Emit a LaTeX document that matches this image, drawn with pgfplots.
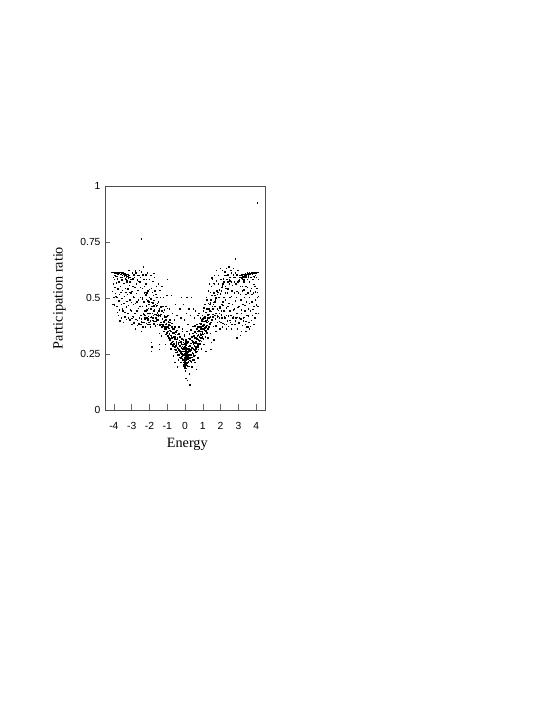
\documentclass[border=0pt]{standalone}
\usepackage{fontspec}
\setmainfont{Liberation Serif}
\setsansfont{Liberation Sans}
\usepackage{pgfplots}
\pgfplotsset{compat=1.18}
\begin{document}
\begin{tikzpicture}[x=1pt,y=1pt]
\path[use as bounding box,fill=white] (0,0) rectangle (545,705);
\begin{axis}[at={(105pt,295pt)},anchor=south west,scale only axis,width=160.6pt,height=224pt,
 xmin=-4.5,xmax=4.53,ymin=0,ymax=1,
 axis line style={line width=0.5pt,black!70},
 tick style={line width=0.5pt,black!60},
 major tick length=5.5pt,tick align=inside,xtick pos=bottom,ytick pos=left,
 xtick={-4,-3,-2,-1,0,1,2,3,4},xticklabels={-4,-3,-2,-1,0,1,2,3,4},
 ytick={0,0.25,0.5,0.75,1},yticklabels={0,0.25,0.5,0.75,1},
 tick label style={font=\sffamily\fontsize{10.3}{12}\selectfont},
 xticklabel style={yshift=-8.5pt},yticklabel style={xshift=-1pt},
 xlabel={Energy},ylabel={Participation ratio},
 label style={font=\fontsize{14.2}{16}\selectfont},
 xlabel style={yshift=-2pt,xshift=2pt},ylabel style={yshift=8pt},
 clip=true]
\addplot[only marks,mark=square*,mark size=0.22pt,black] coordinates {
(-4.12,.615)(-4.07,.614)(-4.03,.616)(-3.98,.612)(-3.94,.615)(-3.9,.611)(-3.86,.616)(-3.82,.613)(-3.78,.609)(-3.74,.615)(-3.7,.611)(-3.66,.606)(-3.62,.614)(-3.58,.609)(-3.54,.603)(-3.5,.612)(-3.46,.607)(-3.42,.6)(-3.38,.61)(-3.34,.604)(-3.3,.595)(-3.26,.606)(-3.22,.598)(-3.18,.59)(-3.14,.603)(-3.1,.594)(-3.06,.585)
(4.12,.616)(4.07,.614)(4.03,.616)(3.98,.612)(3.94,.615)(3.9,.611)(3.86,.616)(3.82,.613)(3.78,.609)(3.74,.615)(3.7,.611)(3.66,.606)(3.62,.614)(3.58,.609)(3.54,.603)(3.5,.612)(3.46,.607)(3.42,.6)(3.38,.61)(3.34,.604)(3.3,.595)(3.26,.606)(3.22,.598)(3.18,.59)(3.14,.603)(3.1,.594)(3.06,.585)
(4.06,.925)(-2.47,.765)(2.82,.675)(-1.0,.585)(-1.75,.61)(1.5,.59)
(-4.05,.593)(-4.03,.563)(-4.08,.531)(-4.02,.504)(-4.06,.472)(-3.98,.584)(-3.95,.547)(-3.93,.522)(-3.9,.597)(-3.87,.568)(-3.85,.503)(-3.83,.463)(-3.8,.587)(-3.78,.541)(-3.75,.424)(-3.72,.573)(-3.7,.518)(-3.68,.398)(-3.65,.592)(-3.63,.553)(-3.6,.473)(-3.58,.412)(-3.55,.582)(-3.52,.534)(-3.5,.443)(-3.48,.392)(-3.45,.566)(-3.42,.507)(-3.4,.417)(-3.37,.587)(-3.35,.544)(-3.32,.462)(-3.3,.405)(-3.27,.573)(-3.25,.516)(-3.22,.433)(-3.2,.412)(-3.17,.625)(-3.15,.557)(-3.12,.492)(-3.1,.403)(-3.07,.576)(-3.05,.523)(-3.02,.444)(-3,.383)(-2.97,.612)(-2.95,.552)(-2.92,.473)(-2.9,.414)(-2.87,.594)(-2.85,.503)(-2.82,.432)(-2.8,.362)(-2.77,.613)(-2.75,.564)(-2.72,.483)(-2.7,.402)(-2.67,.603)(-2.65,.534)(-2.62,.455)(-2.6,.386)(-2.57,.625)(-2.55,.572)(-2.52,.503)(-2.5,.424)(-2.47,.352)(-2.45,.617)(-2.42,.544)(-2.4,.463)(-2.37,.393)(-2.35,.64)(-2.32,.583)(-2.3,.524)(-2.27,.443)(-2.25,.372)(-2.22,.604)(-2.2,.563)(-2.18,.494)(-2.15,.413)(-2.12,.612)(-2.1,.533)(-2.07,.454)(-2.05,.392)(-2.02,.583)(-2,.504)(-1.98,.433)(-1.95,.372)(-1.92,.603)(-1.9,.544)(-1.87,.463)(-1.85,.402)(-1.82,.574)(-1.8,.513)(-1.77,.444)(-1.75,.385)(-1.72,.592)(-1.7,.533)(-1.67,.473)(-1.65,.412)(-1.62,.553)(-1.6,.503)(-1.57,.434)(-1.55,.382)(-1.52,.564)(-1.5,.483)(-1.47,.423)(-1.45,.343)(-1.42,.534)(-1.4,.463)(-1.37,.392)(-1.35,.332)(-1.32,.553)(-1.3,.443)(-1.27,.372)(-1.22,.503)(-1.18,.424)(-1.15,.362)(-1.12,.293)(-1.08,.463)(-1.02,.513)(-.98,.424)(-.95,.333)(-.9,.453)(-.85,.392)(-.8,.273)(-.78,.513)(-.72,.433)(-.68,.243)(-.62,.403)(-.58,.213)(-.55,.473)(-.48,.423)(-.44,.193)(-.4,.224)(-.35,.372)(-.3,.453)(-.25,.412)(-.2,.503)(-.15,.363)(-.1,.473)(-.05,.403)(0.03,.143)(.05,.433)(.12,.132)(.1,.503)(.15,.383)(.2,.453)(.22,.163)(.25,.113)(.3,.423)(.35,.503)(.38,.193)(.42,.373)(.45,.453)(.5,.413)(.55,.213)(.58,.443)(.62,.183)(.65,.383)(.7,.423)(.72,.233)(.78,.433)(.85,.413)(.9,.273)(.95,.423)(1.02,.443)(1.05,.293)(1.1,.473)(1.15,.263)(1.18,.503)(1.22,.453)(1.28,.323)(1.3,.533)(1.35,.563)(1.38,.443)(1.42,.343)(1.45,.493)(1.48,.553)(1.52,.583)(1.55,.453)(1.58,.373)(1.6,.523)(1.63,.603)(1.65,.563)(1.68,.423)(1.7,.493)(1.72,.353)(1.75,.623)(1.78,.533)(1.8,.453)(1.82,.393)(1.85,.603)(1.88,.563)(1.9,.503)(1.92,.433)(1.95,.363)(1.98,.633)(2,.583)(2.02,.533)(2.05,.473)(2.07,.413)(2.1,.623)(2.12,.563)(2.15,.503)(2.17,.443)(2.2,.383)(2.22,.603)(2.25,.553)(2.27,.493)(2.3,.423)(2.32,.633)(2.35,.583)(2.37,.523)(2.4,.463)(2.42,.373)(2.45,.64)(2.47,.563)(2.5,.503)(2.52,.443)(2.55,.393)(2.57,.623)(2.6,.573)(2.62,.533)(2.65,.473)(2.67,.413)(2.7,.633)(2.72,.593)(2.75,.523)(2.77,.453)(2.8,.383)(2.82,.613)(2.85,.563)(2.87,.503)(2.9,.433)(2.92,.363)(2.95,.623)(2.97,.573)(3,.523)(3.02,.463)(3.05,.413)(3.08,.603)(3.1,.553)(3.12,.493)(3.15,.433)(3.17,.353)(3.2,.583)(3.22,.533)(3.25,.473)(3.27,.413)(3.3,.573)(3.32,.503)(3.35,.443)(3.37,.383)(3.4,.593)(3.42,.553)(3.45,.483)(3.47,.423)(3.5,.583)(3.52,.523)(3.55,.453)(3.57,.393)(3.6,.573)(3.62,.503)(3.65,.443)(3.67,.373)(3.7,.593)(3.72,.543)(3.75,.483)(3.77,.423)(3.8,.583)(3.82,.523)(3.85,.463)(3.87,.383)(3.9,.593)(3.92,.553)(3.95,.493)(3.97,.433)(4,.593)(4.02,.543)(4.05,.503)(4.08,.463)(4.1,.433)(4.12,.583)
(-3.97,.471)(-3.89,.509)(-3.81,.436)(-3.73,.488)(-3.69,.447)(-3.61,.527)(-3.57,.498)(-3.53,.452)(-3.44,.477)(-3.38,.437)(-3.33,.526)(-3.28,.486)(-3.23,.541)(-3.19,.468)(-3.13,.527)(-3.09,.448)(-3.04,.481)(-2.99,.531)(-2.94,.418)(-2.91,.506)(-2.84,.547)(-2.81,.477)(-2.74,.522)(-2.71,.443)(-2.64,.492)(-2.61,.574)(-2.56,.463)(-2.51,.548)(-2.46,.407)(-2.41,.496)(-2.36,.431)(-2.31,.552)(-2.26,.408)(-2.21,.526)(-2.16,.447)(-2.11,.487)(-2.06,.418)(-2.01,.539)(-1.96,.398)(-1.91,.481)(-1.86,.527)(-1.81,.412)(-1.76,.491)(-1.71,.428)(-1.66,.517)(-1.61,.397)(-1.56,.478)(-1.51,.418)(-1.46,.453)(-1.41,.503)(-1.36,.427)(-1.31,.382)(-1.26,.463)(-1.21,.394)(-1.16,.447)(-1.11,.383)(-1.06,.417)(-1.01,.454)
(1.01,.413)(1.06,.456)(1.11,.397)(1.16,.437)(1.21,.492)(1.26,.403)(1.31,.478)(1.36,.414)(1.41,.527)(1.46,.392)(1.51,.513)(1.56,.428)(1.61,.567)(1.66,.483)(1.71,.408)(1.76,.578)(1.81,.518)(1.86,.418)(1.91,.538)(1.96,.457)(2.01,.392)(2.06,.547)(2.11,.467)(2.16,.587)(2.21,.418)(2.26,.523)(2.31,.457)(2.36,.398)(2.41,.542)(2.46,.476)(2.51,.578)(2.56,.423)(2.61,.508)(2.66,.556)(2.71,.447)(2.76,.572)(2.81,.487)(2.86,.412)(2.91,.531)(2.96,.458)(3.01,.578)(3.06,.391)(3.11,.517)(3.16,.448)(3.21,.552)(3.26,.398)(3.31,.538)(3.36,.469)(3.41,.517)(3.46,.372)(3.51,.547)(3.56,.421)(3.61,.478)(3.66,.532)(3.71,.402)(3.76,.517)(3.81,.451)(3.86,.562)(3.91,.412)(3.96,.528)(4.01,.471)(4.06,.525)(4.11,.507)
(-1.9,.303)(-1.88,.282)(-1.89,.263)(-1.45,.293)(-1.44,.272)(1.48,.303)(1.45,.272)(1.6,.313)(2.9,.323)(3.1,.333)(-2.1,.382)(-2.3,.393)(-2.5,.383)(2.1,.372)(2.3,.363)(2.6,.363)(3.4,.353)(3.6,.363)
(-3.0,.41)(-2.88,.39)(-2.78,.405)(-2.68,.378)(-2.58,.412)(-2.48,.395)(-2.38,.372)(-2.28,.412)(-2.19,.387)(-2.09,.404)(-1.99,.382)(-1.89,.416)(-1.79,.398)(-1.69,.376)(-1.59,.422)(1.72,.376)(1.82,.416)(1.92,.396)(2.02,.426)(2.12,.388)(2.22,.412)(2.32,.382)(2.42,.42)(2.52,.402)(2.62,.384)(2.72,.418)(2.82,.398)(2.92,.414)(3.02,.39)(3.12,.408)(3.22,.378)(3.32,.414)(3.42,.396)(3.52,.372)
};
\addplot[only marks,mark=square*,mark size=0.3pt,black] coordinates {
(-1.63,.427)(-1.58,.468)(-1.54,.402)(-1.49,.443)(-1.44,.381)(-1.39,.422)(-1.36,.462)(-1.33,.371)(-1.29,.407)(-1.26,.383)(-1.23,.436)(-1.2,.352)(-1.18,.398)(-1.15,.417)(-1.13,.372)(-1.11,.338)(-1.09,.402)(-1.07,.363)(-1.05,.386)(-1.03,.344)(-1.01,.421)(-.99,.373)(-.97,.352)(-.95,.394)(-.93,.322)(-.91,.365)(-.89,.341)(-.87,.403)(-.85,.317)(-.83,.378)(-.81,.296)(-.79,.352)(-.77,.333)(-.75,.388)(-.73,.306)(-.71,.284)(-.69,.362)(-.67,.326)(-.65,.346)(-.63,.297)(-.61,.272)(-.59,.371)(-.57,.318)(-.55,.339)(-.53,.286)(-.51,.258)(-.49,.304)(-.47,.356)(-.45,.279)(-.43,.323)(-.41,.248)(-.39,.297)(-.37,.341)(-.35,.268)(-.33,.312)(-.31,.236)(-.29,.287)(-.27,.328)(-.25,.255)(-.23,.213)(-.21,.296)(-.19,.241)(-.17,.351)(-.15,.271)(-.13,.224)(-.11,.314)(-.09,.196)(-.07,.262)(-.05,.338)(-.03,.207)(-.01,.284)
(.01,.232)(.03,.305)(.05,.187)(.07,.256)(.09,.352)(.11,.212)(.13,.276)(.15,.238)(.17,.321)(.19,.196)(.21,.264)(.23,.341)(.25,.223)(.27,.288)(.29,.246)(.31,.358)(.33,.269)(.35,.214)(.37,.311)(.39,.236)(.41,.279)(.43,.342)(.45,.252)(.47,.297)(.49,.224)(.51,.322)(.53,.268)(.55,.377)(.57,.245)(.59,.306)(.61,.283)(.63,.343)(.65,.262)(.67,.318)(.69,.373)(.71,.291)(.73,.335)(.75,.272)(.77,.356)(.79,.308)(.81,.388)(.83,.296)(.85,.341)(.87,.322)(.89,.372)(.91,.308)(.93,.396)(.95,.351)(.97,.329)(.99,.408)(1.01,.362)(1.03,.317)(1.05,.381)(1.07,.343)(1.09,.418)(1.11,.367)(1.13,.328)(1.15,.398)(1.17,.354)(1.19,.436)(1.21,.379)(1.23,.345)(1.25,.412)(1.27,.363)(1.29,.453)(1.31,.396)(1.33,.372)(1.35,.428)(1.37,.384)(1.39,.472)(1.41,.416)(1.43,.392)(1.47,.441)(1.49,.403)(1.53,.463)(1.57,.417)(1.62,.482)
(-.02,.262)(.01,.243)(.03,.223)(-.06,.244)(.06,.266)(-.03,.221)(.0,.273)(.02,.204)(-.01,.284)(.05,.292)(-.09,.263)(.12,.251)(.1,.232)(-.12,.274)(.14,.272)(-.14,.223)(-.11,.302)(.19,.234)(.04,.313)(-.04,.332)(-.18,.263)(-.16,.285)(-.08,.223)(.08,.243)(.16,.258)(.18,.284)(-.04,.186)(.06,.212)(-.01,.198)(.02,.254)(-.06,.278)(.07,.224)(-.02,.236)(.03,.268)(-.07,.214)(.0,.249)(.01,.176)
(-1.92,.452)(-1.84,.433)(-1.79,.423)(-1.73,.447)(-1.68,.413)(-1.62,.463)(-2.03,.472)(-2.11,.433)(-2.2,.442)(-2.26,.423)(-1.96,.414)(-2.4,.503)(-2.31,.483)(-2.22,.514)(-2.14,.524)(-2.04,.483)(-1.76,.466)(-2.34,.428)(-2.18,.466)(-2.08,.407)(-1.94,.498)(-1.83,.478)(-1.7,.396)(-1.6,.404)(-1.52,.427)
(1.68,.463)(1.74,.433)(1.81,.424)(1.86,.446)(1.91,.412)(1.96,.463)(2.03,.442)(2.12,.484)(2.21,.503)(2.29,.543)(2.41,.572)(2.52,.592)(1.72,.502)(1.84,.526)(1.97,.518)(2.08,.556)(2.18,.572)(2.33,.601)(1.58,.472)(1.66,.513)
(-3.42,.602)(-3.31,.582)(-3.2,.603)(-3.11,.574)(-2.9,.604)(-2.8,.622)(-2.7,.583)(-2.6,.602)(3.42,.603)(3.31,.582)(3.2,.604)(2.9,.603)(2.8,.592)(2.7,.604)(2.6,.612)(2.4,.603)(-3.55,.592)(-3.25,.578)(-2.95,.587)(-2.52,.592)(-2.38,.604)(-2.18,.584)(2.22,.618)(2.48,.581)(3.05,.592)(3.55,.594)(3.85,.598)(3.95,.602)(-3.85,.598)(-3.95,.602)
};
\addplot[only marks,mark=square*,mark size=0.4pt,black] coordinates {
(-1.24,.378)(-1.17,.352)(-1.12,.404)(-1.06,.342)(-1.02,.372)(-.96,.331)(-.92,.382)(-.88,.312)(-.86,.356)(-.82,.334)(-.78,.302)(-.76,.372)(-.74,.323)(-.7,.291)(-.68,.345)(-.66,.307)(-.62,.362)(-.6,.284)(-.58,.329)(-.54,.268)(-.52,.348)(-.5,.296)(-.46,.316)(-.44,.262)(-.42,.338)(-.38,.274)(-.36,.303)(-.34,.246)(-.32,.328)(-.28,.263)(-.26,.306)(-.24,.234)(-.22,.278)(-.2,.252)(-.18,.318)(-.16,.228)(-.14,.294)(-.12,.246)(-.1,.204)(-.08,.278)(-.06,.222)(-.04,.296)(-.02,.188)(0,.236)
(.02,.278)(.04,.204)(.06,.238)(.08,.298)(.1,.262)(.12,.198)(.14,.228)(.16,.304)(.18,.216)(.2,.272)(.22,.248)(.24,.318)(.26,.232)(.28,.266)(.3,.298)(.32,.218)(.34,.248)(.36,.328)(.38,.278)(.4,.256)(.42,.226)(.44,.304)(.46,.272)(.48,.332)(.5,.242)(.52,.288)(.54,.348)(.56,.302)(.58,.26)(.6,.322)(.62,.274)(.64,.362)(.66,.298)(.68,.33)(.7,.282)(.72,.352)(.74,.314)(.76,.298)(.78,.372)(.8,.326)(.82,.352)(.84,.312)(.86,.384)(.88,.336)(.9,.362)(.92,.324)(.94,.402)(.96,.346)(.98,.376)(1,.338)(1.04,.396)(1.08,.358)(1.12,.412)(1.16,.372)(1.2,.346)(1.24,.392)(1.28,.424)(1.32,.412)(1.36,.452)(1.42,.478)
(-.03,.252)(.0,.224)(.03,.244)(-.05,.232)(.05,.252)(.01,.262)(-.01,.216)(.04,.228)(-.02,.272)(.02,.234)
};
\end{axis}
\end{tikzpicture}
\end{document}
